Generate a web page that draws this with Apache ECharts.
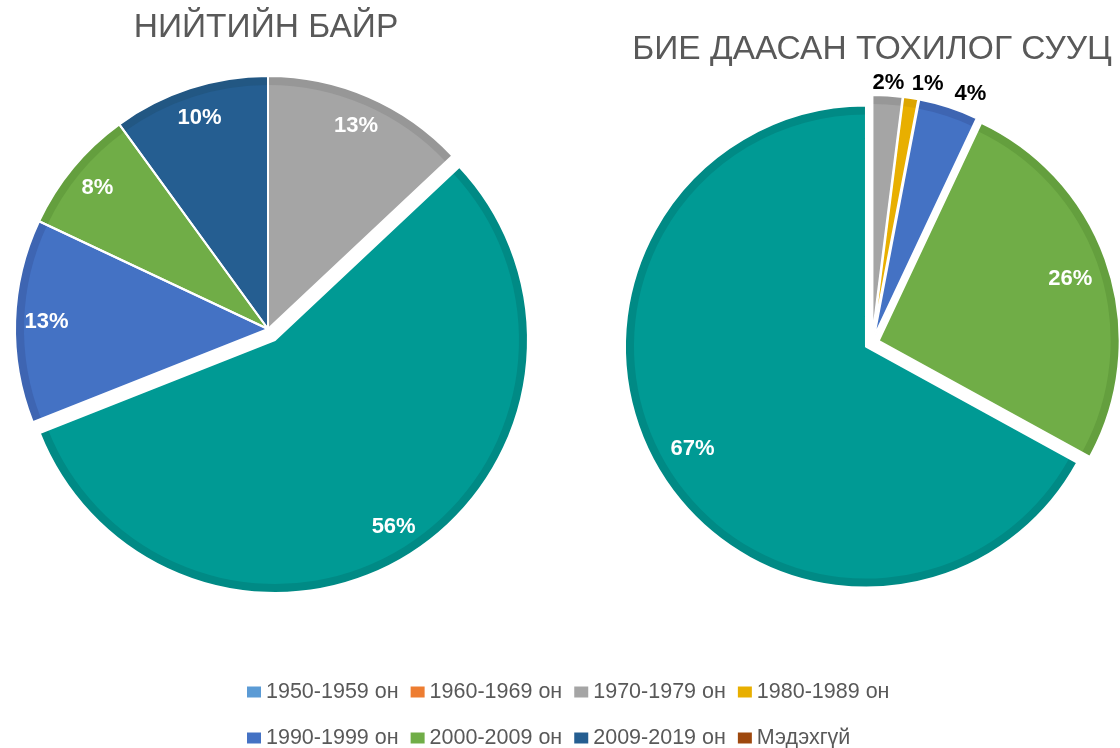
<!DOCTYPE html>
<html>
<head>
<meta charset="utf-8">
<title>Барилгын ашиглалтад орсон он</title>
<script src="https://cdn.jsdelivr.net/npm/echarts@6/dist/echarts.min.js"></script>
<style>
  html, body { margin: 0; padding: 0; background: #fff; }
  #chart { width: 1120px; height: 748px; }
</style>
</head>
<body>
<div id="chart"></div>
<script>
  // legend rows
  const legendRow1 = ['1950-1959 он', '1960-1969 он', '1970-1979 он', '1980-1989 он']
  const legendRow2 = ['1990-1999 он', '2000-2009 он', '2009-2019 он', 'Мэдэхгүй']

  // НИЙТИЙН БАЙР, clockwise from 12 o'clock (teal slice is not in the legend)
  const leftNames = ['1950-1959 он', '1960-1969 он', '1970-1979 он', '1980-1989 он', 'Бусад',
    '1990-1999 он', '2000-2009 он', '2009-2019 он', 'Мэдэхгүй']
  const leftValues = [0, 0, 13, 0, 56, 13, 8, 10, 0]

  // БИЕ ДААСАН ТОХИЛОГ СУУЦ, clockwise from 12 o'clock
  const rightNames = ['1950-1959 он', '1960-1969 он', '1970-1979 он', '1980-1989 он', '1990-1999 он',
    '2000-2009 он', '2009-2019 он', 'Мэдэхгүй', 'Бусад']
  const rightValues = [0, 0, 2, 1, 4, 26, 0, 0, 67]

  const font = '"Liberation Sans", Arial, sans-serif'

  const fillColor = {
    '1950-1959 он': '#5B9BD5',
    '1960-1969 он': '#ED7D31',
    '1970-1979 он': '#A5A5A5',
    '1980-1989 он': '#E8AF00',
    '1990-1999 он': '#4472C4',
    '2000-2009 он': '#70AD47',
    '2009-2019 он': '#255E91',
    'Мэдэхгүй': '#9E480E',
    'Бусад': '#009A94'
  }
  // darker rim of each slice (the bevel)
  const rimColor = {
    '1950-1959 он': '#5390C6',
    '1960-1969 он': '#DB7330',
    '1970-1979 он': '#979797',
    '1980-1989 он': '#DCA500',
    '1990-1999 он': '#3E65B2',
    '2000-2009 он': '#649F3E',
    '2009-2019 он': '#225783',
    'Мэдэхгүй': '#913F0C',
    'Бусад': '#008A85'
  }

  const pctText = p => Math.round(p.percent) + '%'

  function buildPie(names, values, cfg) {
    const common = {
      type: 'pie',
      center: cfg.center,
      startAngle: 90,
      clockwise: true,
      selectedMode: 'multiple',
      selectedOffset: cfg.offset,
      silent: true,
      animation: false,
      emphasis: { disabled: true },
      labelLine: { show: false },
      label: { show: false }
    }
    const isOut = n => cfg.exploded.indexOf(n) > -1
    const layer = (radius, z, itemStyle, extra) => Object.assign({}, common, {
      radius: radius,
      z: z,
      data: names.map((n, i) => Object.assign({
        name: n,
        value: values[i],
        selected: isOut(n),
        itemStyle: itemStyle(n, values[i])
      }, extra ? extra(n, values[i]) : {}))
    })

    const series = [
      // rim
      layer(cfg.radius, 1, n => ({ color: rimColor[n], borderWidth: 0 })),
      // face
      layer(cfg.radius - 9, 2, n => ({ color: fillColor[n], borderWidth: 0 })),
      // white separators
      layer(cfg.radius, 3, (n, v) => ({ color: 'rgba(0,0,0,0)', borderColor: '#fff', borderWidth: v ? 2 : 0 }))
    ]

    // white labels inside the big slices
    const inner = layer(cfg.innerLabelRadius, 4,
      () => ({ color: 'rgba(0,0,0,0)', borderWidth: 0 }),
      (n, v) => ({ label: { show: v >= 5 } }))
    inner.label = {
      position: 'inside',
      formatter: pctText,
      color: '#fff',
      fontFamily: font,
      fontWeight: 'bold',
      fontSize: 22
    }
    series.push(inner)

    if (cfg.outerLabelRadius) {
      // black labels above the thin slices
      const outer = layer(cfg.outerLabelRadius, 4,
        () => ({ color: 'rgba(0,0,0,0)', borderWidth: 0 }),
        (n, v) => ({ label: { show: v > 0 && v < 5 } }))
      outer.label = {
        position: 'inside',
        formatter: pctText,
        color: '#000',
        fontFamily: font,
        fontWeight: 'bold',
        fontSize: 22
      }
      outer.labelLayout = function(p) {
        const shift = cfg.labelShift[names[p.dataIndex]]
        return shift ? { dx: shift[0], dy: shift[1] } : {}
      }
      series.push(outer)
    }
    return series
  }

  const leftSeries = buildPie(leftNames, leftValues, {
    center: [268, 329],
    radius: 253,
    offset: 13,
    exploded: ['Бусад'],
    innerLabelRadius: [184, 253]
  })
  const rightSeries = buildPie(rightNames, rightValues, {
    center: [872, 343],
    radius: 241,
    offset: 7,
    exploded: rightNames.slice(),
    innerLabelRadius: [156, 241],
    outerLabelRadius: [241, 260],
    labelShift: { '1980-1989 он': [15, -2], '1990-1999 он': [18, -1] }
  })

  const legendItem = n => ({ name: n, itemStyle: { color: fillColor[n], borderWidth: 0 } })
  const legendBase = {
    left: 247,
    padding: 0,
    icon: 'rect',
    itemWidth: 14,
    itemHeight: 11,
    itemGap: 12,
    selectedMode: false,
    textStyle: { fontFamily: font, fontSize: 21.5, color: '#595959' }
  }

  const chart = echarts.init(document.getElementById('chart'))
  chart.setOption({
    backgroundColor: '#fff',
    animation: false,
    title: [{
      text: 'НИЙТИЙН БАЙР',
      left: 266,
      top: 11,
      textAlign: 'center',
      padding: 0,
      textStyle: { fontFamily: font, fontSize: 33.5, fontWeight: 'normal', color: '#595959' }
    }, {
      text: 'БИЕ ДААСАН ТОХИЛОГ СУУЦ',
      left: 872,
      top: 33,
      textAlign: 'center',
      padding: 0,
      textStyle: { fontFamily: font, fontSize: 33.5, fontWeight: 'normal', color: '#595959' }
    }],
    legend: [
      Object.assign({}, legendBase, { top: 681, data: legendRow1.map(legendItem) }),
      Object.assign({}, legendBase, { top: 727, data: legendRow2.map(legendItem) })
    ],
    series: leftSeries.concat(rightSeries)
  })
</script>
</body>
</html>
